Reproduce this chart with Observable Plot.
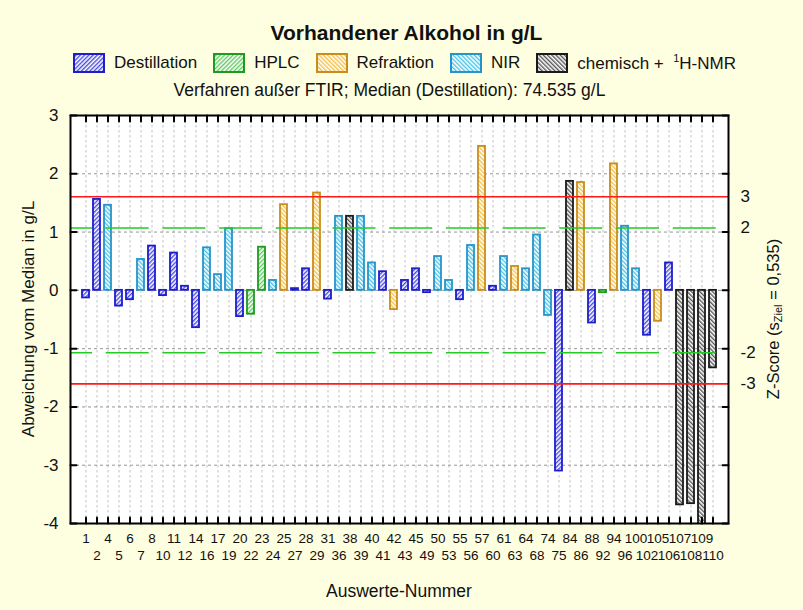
<!DOCTYPE html>
<html>
<head>
<meta charset="utf-8">
<script src="https://cdn.jsdelivr.net/npm/d3@7"></script>
<script src="https://cdn.jsdelivr.net/npm/@observablehq/plot@0.6"></script>
<style>
  html, body { margin: 0; padding: 0; background: #fefee0; }
  #wrap { position: relative; width: 803px; height: 610px; font-family: "Liberation Sans", Arial, Helvetica, sans-serif; color: #111; }
  #title { position: absolute; top: 21px; left: 5px; width: 803px; text-align: center; font-weight: bold; font-size: 21px; }
  #legend { position: absolute; top: 52px; left: 73px; display: flex; align-items: center; font-size: 17px; white-space: nowrap; }
  #legend .item { display: flex; align-items: center; margin-right: 16px; }
  #legend svg { margin-right: 9px; }
  #subtitle { position: absolute; top: 80px; left: -12px; width: 803px; text-align: center; font-size: 17.5px; }
  #chart { position: absolute; top: 0; left: 0; }
</style>
</head>
<body>
<div id="wrap">
  <div id="chart"></div>
  <div id="title">Vorhandener Alkohol in g/L</div>
  <div id="legend"></div>
  <div id="subtitle">Verfahren außer FTIR; Median (Destillation): 74.535 g/L</div>
</div>
<script>
// ---- data ----
const ids = [1,2,4,5,6,7,8,10,11,12,14,16,17,19,20,22,23,24,25,27,28,29,31,36,38,39,40,41,42,43,45,49,50,53,55,56,57,60,61,63,64,68,74,75,84,86,88,92,94,96,100,102,105,106,107,108,109,110];
const methods = ["D","D","N","D","D","N","D","D","D","D","D","N","N","N","D","H","H","N","R","D","D","R","D","N","C","N","N","D","R","D","D","D","N","N","D","N","R","D","N","R","N","N","N","D","C","R","D","H","R","N","N","D","R","D","C","C","C","C"];
const deviations = [-0.13,1.56,1.46,-0.27,-0.16,0.53,0.76,-0.09,0.64,0.07,-0.64,0.73,0.27,1.06,-0.45,-0.41,0.74,0.17,1.47,0.03,0.37,1.67,-0.15,1.27,1.27,1.27,0.47,0.32,-0.33,0.17,0.37,-0.04,0.58,0.17,-0.16,0.77,2.47,0.07,0.58,0.41,0.37,0.95,-0.43,-3.10,1.87,1.85,-0.56,-0.04,2.17,1.10,0.37,-0.77,-0.53,0.47,-3.68,-3.66,-4.30,-1.33];
const methodKeys = ["D","H","R","N","C"];
const methodNames = ["Destillation","HPLC","Refraktion","NIR","chemisch +&nbsp; <sup style='font-size:11px'>1</sup>H-NMR"];
const yTicks = [-4,-3,-2,-1,0,1,2,3];
const zTicks = [3,2,-2,-3];
const sZiel = 0.535;

// ---- styles ----
const styles = {
  D: {stroke: "#1d1dcc", hatch: "#4a4ae0", angle: 45},
  H: {stroke: "#1f9a1f", hatch: "#5ccc5c", angle: 45},
  R: {stroke: "#c98d1c", hatch: "#f2c24a", angle: -45},
  N: {stroke: "#2794c9", hatch: "#4cc3e6", angle: -45},
  C: {stroke: "#1a1a1a", hatch: "#555555", angle: -45}
};
const defsMarkup = methodKeys.map(k => `<pattern id="pat${k}" patternUnits="userSpaceOnUse" width="3" height="3" patternTransform="rotate(${styles[k].angle})"><rect width="3" height="3" fill="white"/><rect width="1.4" height="3" fill="${styles[k].hatch}"/></pattern>`).join("");

const data = ids.map((id, i) => ({id, method: methods[i], value: deviations[i]}));

const tickLen = 6;
const tickShape = {draw(context, l) { context.moveTo(0, 0); context.lineTo(0, -l); }};
const tickStyle = {shape: tickShape, length: tickLen, anchor: "start", stroke: "#000", strokeWidth: 2};

const plot = Plot.plot({
  width: 803,
  height: 610,
  marginLeft: 70,
  marginRight: 75,
  marginTop: 115,
  marginBottom: 87,
  style: {background: "transparent", fontFamily: "Liberation Sans, Arial, sans-serif", color: "#111"},
  x: {type: "band", domain: ids, paddingInner: 0.4, paddingOuter: 0.7, axis: null},
  y: {domain: [-4, 3], axis: null},
  marks: [
    Plot.frame({fill: "white"}),
    Plot.gridX(ids, {x: d => d, stroke: "#b0b0b0", strokeOpacity: 1, strokeDasharray: "2.5,2.5", strokeWidth: 0.8}),
    Plot.gridY(yTicks, {y: d => d, stroke: "#8a8a8a", strokeOpacity: 1, strokeDasharray: "3,3", strokeWidth: 0.9}),
    ...methodKeys.map(k => Plot.barY(data.filter(d => d.method === k), {
      x: "id", y: "value", fill: `url(#pat${k})`, stroke: styles[k].stroke, strokeWidth: 1.8, clip: true
    })),
    Plot.ruleY(zTicks.filter(z => Math.abs(z) === 3), {y: z => z * sZiel, stroke: "#ff1a1a", strokeWidth: 1.6}),
    Plot.ruleY(zTicks.filter(z => Math.abs(z) === 2), {y: z => z * sZiel, stroke: "#22cc22", strokeWidth: 1.6, strokeDasharray: "43,13.7", strokeDashoffset: 21}),
    Plot.frame({stroke: "#000", strokeWidth: 2}),
    // inward ticks on all four sides of the frame
    Plot.vector(ids, {x: d => d, frameAnchor: "top", rotate: 180, ...tickStyle}),
    Plot.vector(ids, {x: d => d, frameAnchor: "bottom", rotate: 0, ...tickStyle}),
    Plot.vector(yTicks, {y: d => d, frameAnchor: "left", rotate: 90, ...tickStyle}),
    Plot.vector(yTicks, {y: d => d, frameAnchor: "right", rotate: -90, ...tickStyle}),
    // y labels left
    Plot.axisY(yTicks, {anchor: "left", tickSize: 0, tickPadding: 12, fontSize: 17, label: null, tickFormat: d => String(d)}),
    // z-score labels right
    Plot.axisY(zTicks.map(z => z * sZiel), {anchor: "right", tickSize: 0, tickPadding: 12, fontSize: 17, label: null, tickFormat: (d, i) => String(zTicks[i])}),
    // two-row x labels
    Plot.text(ids.filter((d, i) => i % 2 === 0), {x: d => d, text: d => String(d), frameAnchor: "bottom", dy: 19, fontSize: 13.5}),
    Plot.text(ids.filter((d, i) => i % 2 === 1), {x: d => d, text: d => String(d), frameAnchor: "bottom", dy: 36, fontSize: 13.5})
  ]
});

const svg = d3.select(plot);
svg.insert("defs", ":first-child").html(defsMarkup);
// axis titles
svg.append("text").attr("transform", "translate(30,319) rotate(-90)").attr("text-anchor", "middle").attr("dominant-baseline", "middle")
  .attr("font-size", 17).attr("fill", "#111").text("Abweichung vom Median in g/L");
const zt = svg.append("text").attr("transform", "translate(775,319) rotate(-90)").attr("text-anchor", "middle").attr("dominant-baseline", "middle")
  .attr("font-size", 16.5).attr("fill", "#111");
zt.append("tspan").text("Z-Score (s");
zt.append("tspan").attr("font-size", 11).attr("dy", 4).text("Ziel");
zt.append("tspan").attr("dy", -4).text(" = 0,535)");
svg.append("text").attr("x", 399).attr("y", 592).attr("text-anchor", "middle").attr("dominant-baseline", "middle")
  .attr("font-size", 17.5).attr("fill", "#111").text("Auswerte-Nummer");

document.getElementById("chart").appendChild(plot);

// legend
const leg = document.getElementById("legend");
methodKeys.forEach((k, i) => {
  const item = document.createElement("div");
  item.className = "item";
  item.innerHTML = `<svg width="32" height="20"><defs>${defsMarkup.replaceAll('id="pat', 'id="lpat' + i + '_')}</defs><rect x="1" y="1" width="30" height="18" fill="url(#lpat${i}_${k})" stroke="${styles[k].stroke}" stroke-width="2"/></svg><span>${methodNames[i]}</span>`;
  leg.appendChild(item);
});
</script>
</body>
</html>
